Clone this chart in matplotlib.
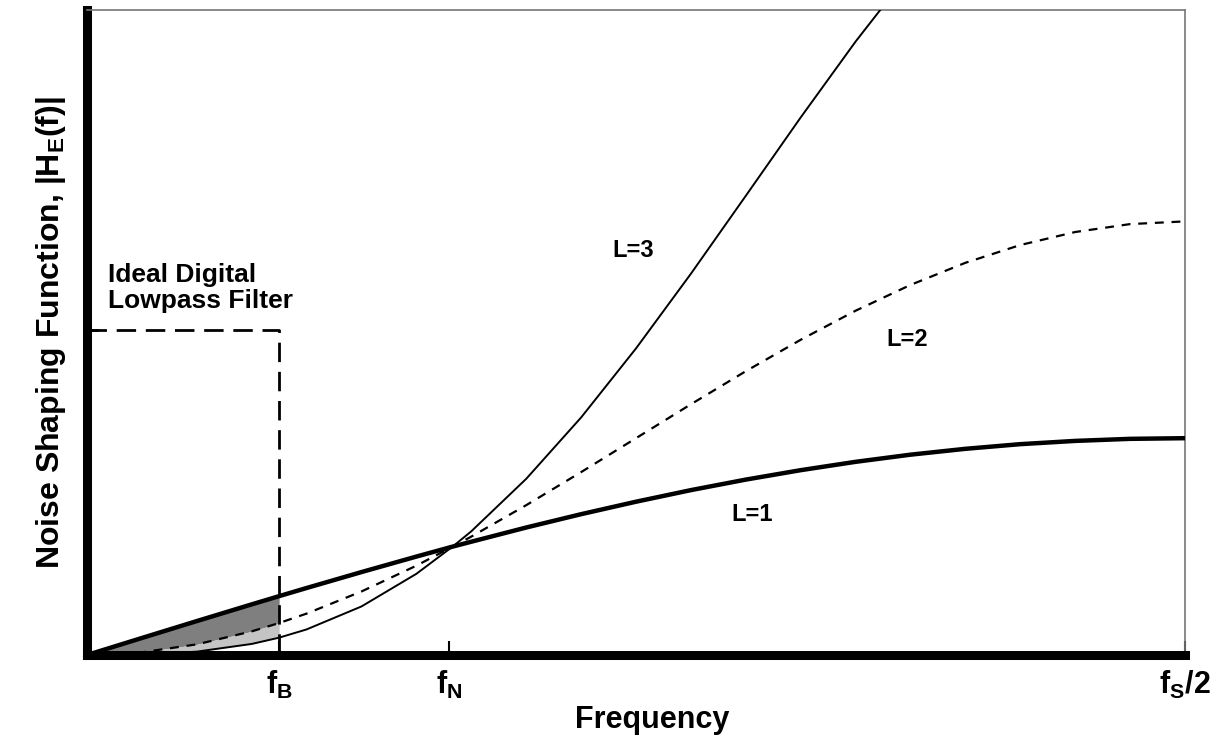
import matplotlib
matplotlib.use("Agg")
import matplotlib.pyplot as plt

plt.rcParams['font.family'] = ['Liberation Sans', 'DejaVu Sans']
plt.rcParams['mathtext.fontset'] = 'custom'
plt.rcParams['mathtext.rm'] = 'Liberation Sans:bold'
plt.rcParams['mathtext.it'] = 'Liberation Sans:bold'
plt.rcParams['mathtext.bf'] = 'Liberation Sans:bold'

# frequency as a fraction of fs/2
freq = [0, 0.05, 0.10, 0.15, 0.175, 0.20, 0.25, 0.30, 0.333, 0.35, 0.40, 0.45,
        0.50, 0.55, 0.60, 0.65, 0.70, 0.75, 0.80, 0.85, 0.90, 0.95, 1.0]
order1 = [0, 0.157, 0.313, 0.467, 0.543, 0.618, 0.765, 0.908, 1.0, 1.045, 1.176, 1.299,
          1.414, 1.521, 1.618, 1.705, 1.782, 1.848, 1.902, 1.945, 1.975, 1.994, 2.0]
order2 = [0, 0.025, 0.098, 0.218, 0.295, 0.382, 0.586, 0.824, 1.0, 1.092, 1.382, 1.687,
          2.0, 2.313, 2.618, 2.908, 3.176, 3.414, 3.618, 3.782, 3.902, 3.975, 4.0]
freq3 = freq[:18]
order3 = [0, 0.004, 0.031, 0.102, 0.160, 0.236, 0.448, 0.749, 1.0, 1.141, 1.625, 2.191,
          2.828, 3.517, 4.236, 4.959, 5.659, 6.308]

f_b = 0.175
f_n = 0.33
filter_level = 3.0
tick_pos = [f_b, f_n, 1.0]
tick_labels = [r'$\mathregular{f_B}$', r'$\mathregular{f_N}$', r'$\mathregular{f_S/2}$']

fig = plt.figure(figsize=(12.11, 7.42), dpi=100)
ax = fig.add_axes([87 / 1211, 87 / 742, 1098 / 1211, 645 / 742])

# shaded in-band noise
nb = freq.index(f_b) + 1
ax.fill_between(freq[:nb], order2[:nb], order1[:nb], color='#7f7f7f', lw=0, zorder=1)
ax.fill_between(freq[:nb], order3[:nb], order2[:nb], color='#c4c4c4', lw=0, zorder=1)

ax.plot(freq, order1, color='black', lw=3.2, solid_capstyle='butt', zorder=3)
ax.plot(freq, order2, color='black', lw=1.6, dashes=(4, 3.5), zorder=3)
ax.plot(freq3, order3, color='black', lw=1.4, zorder=3)

# ideal lowpass filter
ax.plot([0, f_b, f_b], [filter_level, filter_level, 0], color='black', lw=2,
        dashes=(7, 3.5), zorder=2)

ax.text(0.019, 3.62, 'Ideal Digital\nLowpass Filter', fontsize=19, fontweight='bold',
        linespacing=1.12, va='top')
ax.text(0.497, 3.73, 'L=3', fontsize=17, fontweight='bold', ha='center', va='center')
ax.text(0.747, 2.91, 'L=2', fontsize=17, fontweight='bold', ha='center', va='center')
ax.text(0.606, 1.30, 'L=1', fontsize=17, fontweight='bold', ha='center', va='center')

ax.set_xlim(0, 1.0)
ax.set_ylim(0, 5.95)
ax.set_xticks(tick_pos)
ax.set_xticklabels(tick_labels, fontsize=22, fontweight='bold')
ax.set_yticks([filter_level])
ax.set_yticklabels([])
ax.tick_params(axis='x', direction='in', length=10, width=1.5, pad=10)
ax.tick_params(axis='y', direction='in', length=8, width=2)

for side in ['left', 'bottom']:
    ax.spines[side].set_linewidth(6.5)
    ax.spines[side].set_color('black')
for side in ['top', 'right']:
    ax.spines[side].set_linewidth(1.2)
    ax.spines[side].set_color('#777777')

ax.set_xlabel('Frequency', fontsize=22, fontweight='bold')
ax.xaxis.set_label_coords(0.515, -0.078)
ax.set_ylabel(r'Noise Shaping Function, $\mathregular{|H_E(f)|}$', fontsize=23,
              fontweight='bold', labelpad=10)

fig.savefig('out.png', dpi=100)
